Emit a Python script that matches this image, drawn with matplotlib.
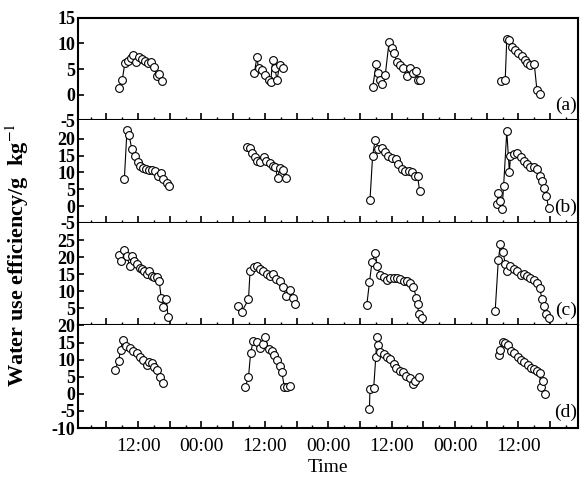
import matplotlib
matplotlib.use('Agg')
import matplotlib.pyplot as plt
from matplotlib.ticker import MultipleLocator, FuncFormatter

# 四个处理 (a)-(d)，每个处理 4 天的日变化
# 时间：以第一天 00:00 起算的小时数
t_a = [[8.3, 9.0, 9.5, 10.0, 10.6, 11.1, 11.6, 12.1, 12.7, 13.3, 13.9, 14.5, 15.0, 15.5, 16.0, 16.5],
       [34.0, 34.5, 34.8, 35.4, 36.0, 36.7, 37.1, 37.5, 37.9, 38.3, 38.8, 39.5],
       [56.4, 57.1, 57.5, 57.8, 58.2, 58.8, 59.5, 60.0, 60.5, 61.0, 61.6, 62.2, 62.9, 63.4, 64.0, 64.6, 64.9, 65.4],
       [80.7, 81.5, 81.8, 82.3, 82.8, 83.4, 84.0, 84.7, 85.3, 85.7, 86.2, 87.0, 87.5, 88.1]]
wue_a = [[1.3, 2.8, 6.2, 6.6, 7.1, 7.8, 6.3, 7.3, 6.9, 6.5, 6.2, 6.4, 5.5, 3.6, 4.1, 2.6],
         [4.2, 7.3, 5.2, 4.8, 3.9, 2.9, 2.5, 6.8, 5.2, 2.9, 5.8, 5.2],
         [1.5, 6.0, 4.2, 2.9, 2.1, 3.9, 10.2, 9.1, 8.1, 6.3, 5.8, 5.2, 3.6, 5.2, 4.3, 4.7, 2.9, 2.8],
         [2.6, 2.9, 10.8, 10.7, 9.4, 8.7, 8.1, 7.6, 6.8, 6.2, 5.8, 6.0, 1.0, 0.2]]

t_b = [[9.4, 9.9, 10.3, 10.8, 11.4, 11.9, 12.4, 12.9, 13.5, 14.0, 14.6, 15.2, 15.8, 16.4, 16.8, 17.4, 17.9],
       [32.6, 33.1, 33.6, 34.1, 34.6, 35.1, 35.8, 36.3, 36.9, 37.5, 38.0, 38.4, 38.9, 39.5, 40.0],
       [55.9, 56.4, 56.9, 57.5, 58.2, 58.8, 59.4, 60.0, 60.9, 61.3, 61.9, 62.6, 63.2, 63.8, 64.5, 64.9, 65.3],
       [79.9, 80.2, 80.6, 80.9, 81.2, 81.8, 82.3, 82.5, 83.1, 83.7, 84.4, 85.0, 85.6, 86.2, 86.9, 87.5, 88.0,
        88.5, 88.9, 89.3, 89.7]]
wue_b = [[8.0, 22.5, 21.2, 17.0, 15.0, 13.2, 11.8, 11.2, 11.0, 10.8, 10.6, 10.5, 9.0, 9.8, 8.0, 7.0, 6.0],
         [17.5, 17.3, 15.8, 14.5, 13.5, 13.0, 14.5, 13.5, 12.8, 12.0, 11.5, 8.5, 11.2, 10.8, 8.5],
         [1.7, 15.0, 19.8, 17.0, 17.2, 16.0, 15.0, 14.2, 14.0, 12.5, 11.0, 10.5, 10.5, 10.0, 9.0, 9.0, 4.5],
         [0.5, 4.0, 1.5, -0.9, 6.0, 22.2, 10.0, 15.0, 15.5, 15.8, 14.5, 13.5, 12.5, 11.5, 11.5, 11.0, 9.0,
          7.5, 5.5, 3.0, -0.5]]

t_c = [[8.3, 8.7, 9.4, 9.9, 10.4, 10.8, 11.3, 11.8, 12.3, 12.7, 13.1, 13.6, 14.1, 14.6, 15.1, 15.5, 16.0,
        16.4, 16.8, 17.3, 17.7],
       [31.0, 31.6, 32.9, 33.2, 34.0, 34.6, 35.1, 35.7, 36.4, 37.0, 37.5, 38.1, 38.9, 39.5, 40.0, 40.7, 41.3, 41.7],
       [55.3, 55.8, 56.3, 56.9, 57.3, 57.8, 58.5, 59.1, 59.7, 60.4, 61.0, 61.6, 62.3, 62.9, 63.5, 64.1, 64.7,
        64.9, 65.1, 65.7],
       [79.6, 80.2, 80.6, 81.1, 81.5, 81.8, 82.5, 83.1, 83.7, 84.4, 85.0, 85.6, 86.2, 86.9, 87.5, 88.0, 88.5,
        88.9, 89.3, 89.7]]
wue_c = [[20.7, 18.9, 22.1, 20.2, 17.3, 20.4, 19.0, 18.0, 16.8, 16.5, 15.8, 15.0, 15.8, 14.4, 14.2, 14.2, 12.9,
          7.9, 5.4, 7.7, 2.5],
         [5.7, 4.0, 7.6, 15.8, 17.0, 17.5, 16.5, 15.8, 15.0, 14.4, 15.2, 13.6, 12.9, 11.2, 8.6, 10.5, 8.0, 6.4],
         [6.0, 12.6, 18.7, 21.1, 17.3, 14.9, 14.2, 13.4, 13.8, 14.0, 13.8, 13.6, 12.9, 12.9, 12.5, 11.2, 8.1,
          6.2, 3.5, 2.3],
         [4.2, 19.2, 23.8, 21.6, 18.0, 15.8, 17.3, 16.4, 16.0, 14.9, 15.0, 14.4, 13.9, 13.2, 12.3, 11.0, 7.6,
          5.7, 3.3, 2.3]]

t_d = [[7.6, 8.3, 8.7, 9.1, 9.7, 10.5, 11.1, 11.8, 12.4, 13.0, 13.6, 14.1, 14.6, 15.0, 15.5, 16.2, 16.7],
       [32.3, 32.9, 33.3, 33.8, 34.5, 35.1, 35.7, 36.1, 36.7, 37.3, 37.8, 38.3, 38.8, 39.2, 39.7, 40.2, 40.8],
       [55.8, 55.9, 56.6, 57.0, 57.2, 57.4, 57.8, 58.5, 59.1, 59.7, 60.4, 60.9, 61.5, 62.1, 62.8, 63.4, 64.0,
        64.5, 65.1],
       [80.3, 80.6, 81.0, 81.5, 82.1, 82.6, 83.2, 83.9, 84.5, 85.1, 85.8, 86.4, 87.0, 87.6, 88.0, 88.3, 88.6, 89.1]]
wue_d = [[7.0, 9.6, 12.8, 15.7, 14.0, 13.3, 12.6, 11.8, 10.8, 10.0, 8.3, 9.3, 9.0, 7.8, 7.0, 4.9, 3.2],
         [2.0, 4.9, 11.8, 15.6, 15.3, 13.3, 14.5, 16.7, 13.0, 12.6, 11.3, 9.8, 8.0, 6.5, 1.9, 2.1, 2.4],
         [-4.5, 1.4, 1.6, 10.8, 16.7, 14.2, 12.3, 11.6, 10.8, 10.3, 8.8, 7.5, 6.8, 6.4, 5.3, 4.7, 3.0, 3.9, 4.9],
         [11.5, 12.8, 15.2, 15.0, 14.2, 12.6, 11.8, 10.9, 10.0, 9.2, 8.3, 7.5, 7.2, 6.7, 6.0, 1.9, 3.7, 0.0]]

panel_names = ['(a)', '(b)', '(c)', '(d)']
ylims = [(-5, 15), (-5, 25.5), (0, 30), (-10, 20)]
yticks = [[-5, 0, 5, 10, 15], [-5, 0, 5, 10, 15, 20], [5, 10, 15, 20, 25], [-10, -5, 0, 5, 10, 15, 20]]

plt.rcParams['font.family'] = ['Liberation Serif', 'DejaVu Serif']
plt.rcParams['mathtext.fontset'] = 'stix'

fig, axes = plt.subplots(4, 1, sharex=True, figsize=(5.81, 4.82), dpi=100)
plt.subplots_adjust(left=0.134, right=0.995, top=0.963, bottom=0.112, hspace=0)

all_t = [t_a, t_b, t_c, t_d]
all_w = [wue_a, wue_b, wue_c, wue_d]

for i, ax in enumerate(axes):
    for tt, ww in zip(all_t[i], all_w[i]):
        ax.plot(tt, ww, color='black', linewidth=0.8, marker='o', markersize=5.6,
                markerfacecolor='white', markeredgecolor='black', markeredgewidth=0.8)
    ax.set_ylim(*ylims[i])
    ax.set_yticks(yticks[i])
    ax.set_yticklabels([str(v) for v in yticks[i]], fontsize=13, fontweight='bold')
    for s in ax.spines.values():
        s.set_linewidth(1.5)
    ax.spines['top'].set_visible(i == 0)
    ax.tick_params(axis='y', direction='in', length=4, width=1.2, pad=2)
    ax.tick_params(axis='x', which='major', direction='in', length=5, width=1.2, top=False)
    ax.tick_params(axis='x', which='minor', direction='in', length=2.5, width=1.0, top=False)
    ax.text(0.975, 0.15, panel_names[i], transform=ax.transAxes, fontsize=14,
            ha='center', va='center')

# x轴：每6小时一个主刻度，3小时一个次刻度，标签只写 12:00 / 00:00
ax = axes[-1]
ax.set_xlim(0.6, 95.3)
ax.xaxis.set_major_locator(MultipleLocator(6))
ax.xaxis.set_minor_locator(MultipleLocator(3))


def fmt_time(x, pos):
    h = int(round(x)) % 24
    if h == 12:
        return '12:00'
    if h == 0:
        return '00:00'
    return ''


ax.xaxis.set_major_formatter(FuncFormatter(fmt_time))
ax.tick_params(axis='x', labelsize=14, pad=7)
ax.set_xlabel('Time', fontsize=14, labelpad=3)

fig.text(0.03, 0.47, 'Water use efficiency/g  kg$^{-1}$', rotation=90, fontsize=16,
         fontweight='bold', ha='center', va='center')

plt.savefig('out.png', dpi=100)
